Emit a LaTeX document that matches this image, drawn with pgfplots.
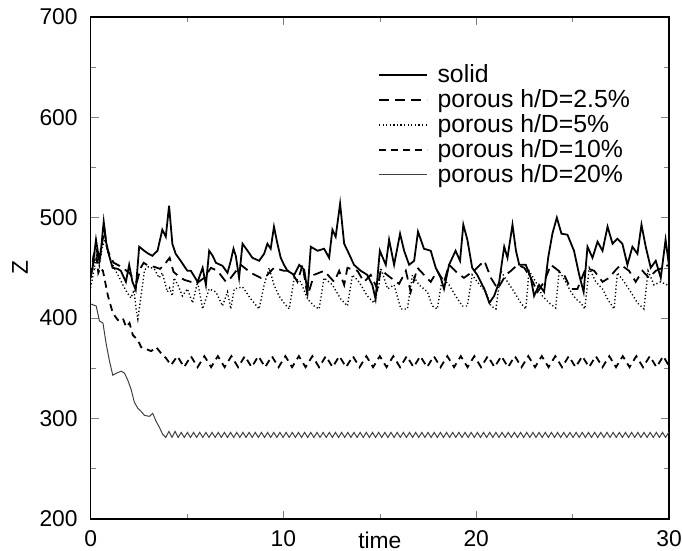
\documentclass[border=0pt]{standalone}
\usepackage{fontspec}
\setmainfont{Liberation Sans}
\usepackage{pgfplots}
\pgfplotsset{compat=1.18}

\begin{document}
\begin{tikzpicture}
\begin{axis}[
  scale only axis, width=290.5bp, height=252bp,
  xmin=0, xmax=30, ymin=200, ymax=700,
  xtick={0,10,20,30}, ytick={200,300,400,500,600,700},
  minor x tick num=1, minor y tick num=1,
  tick align=inside,
  major tick length=4bp, minor tick length=2.5bp,
  xlabel={time}, ylabel={Z},
  tick label style={font=\fontsize{11.5}{14}\selectfont},
  label style={font=\fontsize{11.5}{14}\selectfont},
  /pgf/number format/assume math mode=true,
  yticklabel style={xshift=-3bp},
  xticklabel style={yshift=-2.5bp},
  xlabel style={at={(axis description cs:0.5,0)}, anchor=base, yshift=-15bp},
  ylabel shift=-1bp,
  axis line style={line width=0.8bp},
  legend cell align=left,
  legend style={at={(0.486,0.921)}, anchor=north west, draw=none, fill=none,
    font=\fontsize{12.5}{14}\selectfont, row sep=-2bp},
  legend image code/.code={\draw[#1] (0bp,0bp) -- (24bp,0bp); \path (27bp,0bp);},
]
\coordinate (bl) at (rel axis cs:0,0);
\coordinate (tr) at (rel axis cs:1,1);

% solid
\addplot[black, line width=0.9bp] coordinates {
(0,443)(0.1,450)(0.28,478)(0.45,457)(0.55,470)(0.68,496)(0.8,476)(0.95,463)(1.14,450)(1.4,449)(1.57,447)(1.83,436)(2.0,453)(2.17,436)(2.34,428)(2.52,471)(2.78,467)(3.0,464)(3.2,462)(3.47,467)(3.72,488)(3.9,481)(4.07,512)(4.24,474)(4.41,464)(4.67,457)(5.02,447)
(5.2,447)(5.55,436)(5.81,450)(5.98,433)(6.15,467)(6.33,462)(6.5,455)(6.84,452)(7.1,445)(7.27,457)(7.41,469)(7.53,462)(7.7,440)(7.88,474)(8.14,467)(8.39,460)(8.74,457)(9.0,464)(9.17,474)(9.34,469)(9.51,491)(9.69,474)(9.86,460)(10.03,453)
(10.21,447)(10.56,443)(10.82,453)(11.08,448)(11.25,426)(11.42,471)(11.77,467)(12.11,469)(12.37,460)(12.54,488)(12.71,481)(12.94,514)(13.15,474)(13.4,464)(13.66,453)(14.01,447)(14.35,443)(14.61,433)(14.78,419)
(15.0,467)(15.31,453)(15.48,478)(15.74,453)(16.05,484)(16.26,467)(16.52,453)(16.78,457)(16.98,486)(17.29,469)(17.64,467)(17.9,450)(18.16,440)(18.33,429)(18.59,453)(18.93,467)(19.16,457)(19.33,493)(19.54,478)(19.79,450)(20.05,443)
(20.42,429)(20.68,415)(20.93,422)(21.19,436)(21.45,471)(21.62,460)(21.88,493)(22.06,467)(22.23,453)(22.57,453)(22.83,440)(23.0,422)(23.26,433)(23.52,426)(23.73,460)(23.95,484)(24.18,500)(24.42,484)(24.73,483)(25.07,467)
(25.34,443)(25.57,426)(25.77,471)(26.03,460)(26.29,476)(26.55,467)(26.81,491)(27.07,474)(27.32,479)(27.58,474)(27.84,453)(28.1,471)(28.36,464)(28.57,493)(28.79,471)(29.05,450)(29.31,457)(29.57,440)(29.82,478)(30,452)
};
\addlegendentry{solid}

% porous 2.5%
\addplot[black, line width=0.9bp, dash pattern=on 5bp off 3bp] coordinates {
(0,440)(0.15,462)(0.3,470)(0.45,455)(0.6,475)(0.72,488)(0.85,470)(1.0,462)(1.2,455)(1.5,452)(1.8,448)(2.0,445)(2.2,440)(2.4,436)(2.6,450)(2.75,455)(3.0,452)(3.3,451)(3.6,449)(3.9,455)(4.1,460)(4.3,446)(4.6,441)
(4.86,438)(5.2,436)(5.46,434)(5.89,440)(6.24,450)(6.58,447)(7.02,436)(7.27,440)(7.79,453)(8.31,445)(8.83,440)(9.17,443)(9.51,450)(10.03,447)
(10.39,447)(10.73,436)(10.99,453)(11.25,422)(11.59,443)(12.11,447)(12.63,436)(12.89,447)(13.15,433)(13.32,450)(13.84,447)(14.18,436)(14.53,443)(14.87,429)
(15.05,448)(15.57,440)(16.0,434)(16.35,447)(16.6,426)(16.95,450)(17.29,443)(17.64,436)(17.98,447)(18.33,436)(18.59,453)(19.02,445)(19.36,440)(19.88,447)
(20.42,457)(20.76,440)(21.11,429)(21.54,443)(21.8,447)(22.14,453)(22.49,450)(22.83,440)(23.18,426)(23.52,436)(23.87,453)(24.21,448)(24.56,443)(24.9,429)
(25.25,429)(25.69,450)(26.12,447)(26.55,436)(26.89,440)(27.24,448)(27.5,453)(27.93,447)(28.27,436)(28.62,447)(28.96,440)(29.31,447)(29.65,450)(30,453)
};
\addlegendentry{porous h/D=2.5\%}

% porous 5%
\addplot[black, line width=0.7bp, dash pattern=on 0.6bp off 1.2bp] coordinates {
(0,430)(0.15,445)(0.3,462)(0.45,452)(0.6,470)(0.75,478)(0.9,465)(1.1,455)(1.3,447)(1.5,440)(1.7,432)(1.9,425)(2.1,420)(2.25,428)(2.35,410)(2.45,399)(2.6,420)(2.8,448)(3.0,451)(3.3,449)(3.55,440)(3.72,445)(3.98,426)(4.1,430)(4.24,422)(4.33,440)(4.55,432)(4.76,422)(5.02,429)
(5.29,415)(5.55,436)(5.81,409)(6.15,429)(6.5,426)(6.84,412)(7.1,426)(7.27,409)(7.45,429)(7.88,431)(8.31,419)(8.74,409)(9.0,433)(9.26,450)(9.51,433)(9.77,422)(10.03,415)
(10.3,409)(10.56,440)(10.9,436)(11.25,419)(11.59,412)(11.85,409)(12.11,440)(12.54,433)(12.97,419)(13.32,412)(13.58,443)(13.92,436)(14.35,422)(14.7,415)(14.96,433)
(15.05,450)(15.4,429)(15.74,433)(16.09,409)(16.43,409)(16.69,443)(17.04,433)(17.47,426)(17.72,412)(17.98,409)(18.24,440)(18.59,433)(18.93,422)(19.28,412)(19.54,412)(19.79,443)(20.05,436)
(20.5,426)(20.76,412)(21.02,409)(21.28,447)(21.62,436)(21.97,426)(22.31,415)(22.57,409)(22.74,447)(23.09,436)(23.43,422)(23.78,415)(24.12,410)(24.3,447)(24.64,436)
(24.91,426)(25.17,419)(25.43,415)(25.63,409)(25.86,450)(26.2,436)(26.55,429)(26.81,419)(27.15,409)(27.32,445)(27.67,436)(28.01,426)(28.36,415)(28.7,409)(28.91,447)(29.22,433)(29.56,436)(29.91,433)(30,432)
};
\addlegendentry{porous h/D=5\%}

% porous 10%
\addplot[black, line width=0.9bp, dash pattern=on 3.5bp off 2.5bp] coordinates {
(0,440)(0.15,455)(0.3,462)(0.4,445)(0.5,450)(0.64,447)(0.9,422)(1.15,405)(1.41,398)(1.67,400)(1.84,391)(2.02,395)(2.19,383)(2.45,378)(2.62,371)(2.88,369)(3.14,367)(3.4,371)(3.65,365)(3.91,360)(4.17,353)
(4.50,362)(4.85,351)(5.20,362)(5.55,351)(5.90,362)(6.25,351)(6.60,362)(6.95,351)(7.30,362)(7.65,351)(8.00,362)(8.35,351)(8.70,362)(9.05,351)(9.40,362)(9.75,351)
(10.10,362)(10.45,351)(10.80,362)(11.15,351)(11.50,362)(11.85,351)(12.20,362)(12.55,351)(12.90,362)(13.25,351)(13.60,362)(13.95,351)(14.30,362)(14.65,351)
(15.00,362)(15.35,351)(15.70,362)(16.05,351)(16.40,362)(16.75,351)(17.10,362)(17.45,351)(17.80,362)(18.15,351)(18.50,362)(18.85,351)(19.20,362)(19.55,351)
(19.90,362)(20.25,351)(20.60,362)(20.95,351)(21.30,362)(21.65,351)(22.00,362)(22.35,351)(22.70,362)(23.05,351)(23.40,362)(23.75,351)(24.10,362)(24.45,351)
(24.80,362)(25.15,351)(25.50,362)(25.85,351)(26.20,362)(26.55,351)(26.90,362)(27.25,351)(27.60,362)(27.95,351)(28.30,362)(28.65,351)(29.00,362)(29.35,351)(29.70,362)(30.00,352)
};
\addlegendentry{porous h/D=10\%}

% porous 20%
\addplot[black!75, line width=0.5bp] coordinates {
(0,414)(0.29,412)(0.46,397)(0.64,395)(0.81,374)(0.98,357)(1.15,343)(1.33,345)(1.59,347)(1.76,345)(1.93,338)(2.1,329)(2.27,316)(2.45,310)(2.62,307)(2.79,303)(3.05,302)(3.22,305)(3.4,297)(3.57,291)(3.74,284)
(3.90,281)(4.06,287)(4.22,281)(4.38,287)(4.54,281)(4.70,286)(4.86,281)(5.02,286)(5.18,281)(5.34,286)(5.50,281)(5.66,286)(5.82,281)(5.98,286)(6.14,281)(6.30,286)(6.46,281)(6.62,286)(6.78,281)(6.94,286)(7.10,281)(7.26,286)(7.42,281)(7.58,286)(7.74,281)
(7.90,286)(8.06,281)(8.22,286)(8.38,281)(8.54,286)(8.70,281)(8.86,286)(9.02,281)(9.18,286)(9.34,281)(9.50,286)(9.66,281)(9.82,286)(9.98,281)(10.14,286)(10.30,281)(10.46,286)(10.62,281)(10.78,286)(10.94,281)(11.10,286)(11.26,281)(11.42,286)(11.58,281)(11.74,286)
(11.90,281)(12.06,286)(12.22,281)(12.38,286)(12.54,281)(12.70,286)(12.86,281)(13.02,286)(13.18,281)(13.34,286)(13.50,281)(13.66,286)(13.82,281)(13.98,286)(14.14,281)(14.30,286)(14.46,281)(14.62,286)(14.78,281)(14.94,286)(15.10,281)(15.26,286)(15.42,281)(15.58,286)(15.74,281)
(15.90,286)(16.06,281)(16.22,286)(16.38,281)(16.54,286)(16.70,281)(16.86,286)(17.02,281)(17.18,286)(17.34,281)(17.50,286)(17.66,281)(17.82,286)(17.98,281)(18.14,286)(18.30,281)(18.46,286)(18.62,281)(18.78,286)(18.94,281)(19.10,286)(19.26,281)(19.42,286)(19.58,281)(19.74,286)
(19.90,281)(20.06,286)(20.22,281)(20.38,286)(20.54,281)(20.70,286)(20.86,281)(21.02,286)(21.18,281)(21.34,286)(21.50,281)(21.66,286)(21.82,281)(21.98,286)(22.14,281)(22.30,286)(22.46,281)(22.62,286)(22.78,281)(22.94,286)(23.10,281)(23.26,286)(23.42,281)(23.58,286)(23.74,281)
(23.90,286)(24.06,281)(24.22,286)(24.38,281)(24.54,286)(24.70,281)(24.86,286)(25.02,281)(25.18,286)(25.34,281)(25.50,286)(25.66,281)(25.82,286)(25.98,281)(26.14,286)(26.30,281)(26.46,286)(26.62,281)(26.78,286)(26.94,281)(27.10,286)(27.26,281)(27.42,286)(27.58,281)(27.74,286)
(27.90,281)(28.06,286)(28.22,281)(28.38,286)(28.54,281)(28.70,286)(28.86,281)(29.02,286)(29.18,281)(29.34,286)(29.50,281)(29.66,286)(29.82,281)(29.98,286)(30,285)
};
\addlegendentry{porous h/D=20\%}
\end{axis}
\pgfresetboundingbox
\path[use as bounding box] ([shift={(-45.5bp,-16bp)}]bl) rectangle ([shift={(6.5bp,8.5bp)}]tr);
\end{tikzpicture}
\end{document}
